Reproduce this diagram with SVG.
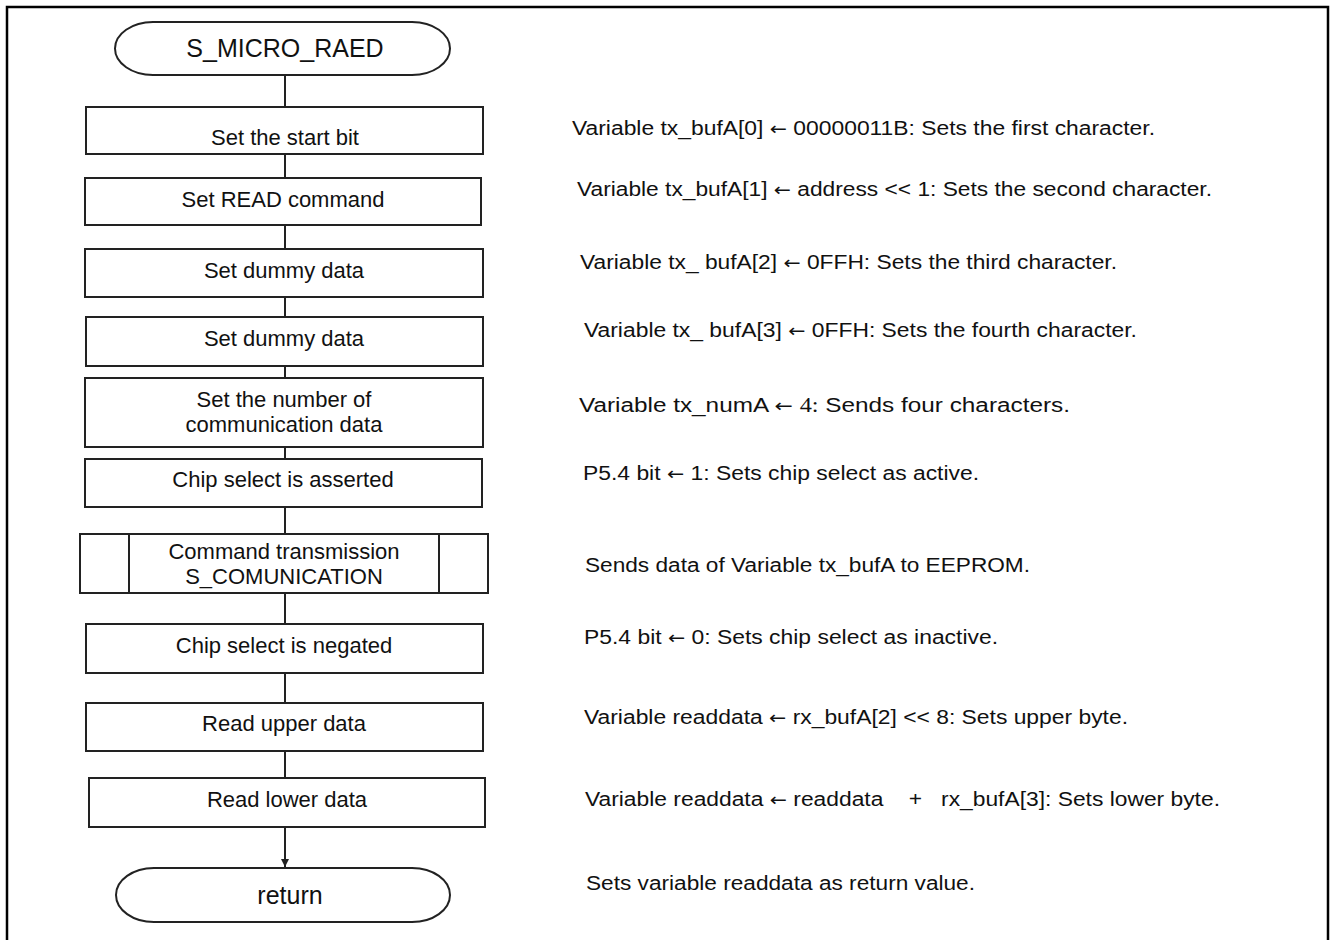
<svg xmlns="http://www.w3.org/2000/svg" width="1330" height="940" viewBox="0 0 1330 940">
  <style>
    .frame { fill: none; stroke: #000; stroke-width: 2.5; }
    .box { fill: #fff; stroke: #222; stroke-width: 2; }
    .wire { fill: none; stroke: #222; stroke-width: 2; }
    .lbl { font-family: "Liberation Sans", Arial, sans-serif; font-size: 22px; fill: #111; text-anchor: middle; }
    .term { font-family: "Liberation Sans", Arial, sans-serif; font-size: 25px; fill: #111; text-anchor: middle; }
    .note { font-family: "Liberation Sans", Arial, sans-serif; font-size: 20px; fill: #111; white-space: pre; }
    .math { font-family: "Liberation Serif", "Times New Roman", serif; }
    .arr { font-family: "DejaVu Sans", sans-serif; font-size: 18px; }
  </style>
  <defs>
    <marker id="arrow" markerWidth="10" markerHeight="10" refX="8" refY="5" orient="auto" markerUnits="userSpaceOnUse" viewBox="0 0 10 10">
      <path d="M0,1 L8,5 L0,9 Z" fill="#222"/>
    </marker>
  </defs>

  <rect width="1330" height="940" fill="#fff"/>
  <!-- outer frame, open at the bottom -->
  <path class="frame" d="M7,940 L7,7 L1328,7 L1328,940"/>

  <!-- connectors -->
  <g id="connectors">
    <line class="wire" x1="285" y1="75" x2="285" y2="107"/>
    <line class="wire" x1="285" y1="154" x2="285" y2="178"/>
    <line class="wire" x1="285" y1="225" x2="285" y2="249"/>
    <line class="wire" x1="285" y1="297" x2="285" y2="317"/>
    <line class="wire" x1="285" y1="366" x2="285" y2="378"/>
    <line class="wire" x1="285" y1="447" x2="285" y2="459"/>
    <line class="wire" x1="285" y1="507" x2="285" y2="534"/>
    <line class="wire" x1="285" y1="593" x2="285" y2="624"/>
    <line class="wire" x1="285" y1="673" x2="285" y2="703"/>
    <line class="wire" x1="285" y1="751" x2="285" y2="778"/>
    <line class="wire" x1="285" y1="827" x2="285" y2="867" marker-end="url(#arrow)"/>
  </g>

  <!-- flowchart nodes -->
  <g id="start">
    <rect class="box" x="115" y="22" width="335" height="53" rx="38" ry="26.5"/>
    <text class="term" x="285" y="57">S_MICRO_RAED</text>
  </g>
  <g id="set-start-bit">
    <rect class="box" x="86" y="107" width="397" height="47"/>
    <text class="lbl" x="285" y="145">Set the start bit</text>
  </g>
  <g id="set-read-command">
    <rect class="box" x="85" y="178" width="396" height="47"/>
    <text class="lbl" x="283" y="207">Set READ command</text>
  </g>
  <g id="set-dummy-1">
    <rect class="box" x="85" y="249" width="398" height="48"/>
    <text class="lbl" x="284" y="278">Set dummy data</text>
  </g>
  <g id="set-dummy-2">
    <rect class="box" x="86" y="317" width="397" height="49"/>
    <text class="lbl" x="284" y="346">Set dummy data</text>
  </g>
  <g id="set-count">
    <rect class="box" x="85" y="378" width="398" height="69"/>
    <text class="lbl" x="284" y="407">Set the number of</text>
    <text class="lbl" x="284" y="432">communication data</text>
  </g>
  <g id="cs-assert">
    <rect class="box" x="85" y="459" width="397" height="48"/>
    <text class="lbl" x="283" y="487">Chip select is asserted</text>
  </g>
  <g id="command-tx">
    <rect class="box" x="80" y="534" width="408" height="59"/>
    <line class="wire" x1="129" y1="534" x2="129" y2="593"/>
    <line class="wire" x1="439" y1="534" x2="439" y2="593"/>
    <text class="lbl" x="284" y="559">Command transmission</text>
    <text class="lbl" x="284" y="584">S_COMUNICATION</text>
  </g>
  <g id="cs-negate">
    <rect class="box" x="86" y="624" width="397" height="49"/>
    <text class="lbl" x="284" y="653">Chip select is negated</text>
  </g>
  <g id="read-upper">
    <rect class="box" x="86" y="703" width="397" height="48"/>
    <text class="lbl" x="284" y="731">Read upper data</text>
  </g>
  <g id="read-lower">
    <rect class="box" x="89" y="778" width="396" height="49"/>
    <text class="lbl" x="287" y="807">Read lower data</text>
  </g>
  <g id="return">
    <rect class="box" x="116" y="868" width="334" height="54" rx="38" ry="27"/>
    <text class="term" x="290" y="904">return</text>
  </g>

  <!-- step descriptions -->
  <g id="notes">
    <text class="note" x="572" y="135" textLength="583" lengthAdjust="spacingAndGlyphs">Variable tx_bufA[0] <tspan class="arr">←</tspan> 00000011B: Sets the first character.</text>
    <text class="note" x="577" y="196" textLength="635" lengthAdjust="spacingAndGlyphs">Variable tx_bufA[1] <tspan class="arr">←</tspan> address &lt;&lt; 1: Sets the second character.</text>
    <text class="note" x="580" y="269" textLength="537" lengthAdjust="spacingAndGlyphs">Variable tx_ bufA[2] <tspan class="arr">←</tspan> 0FFH: Sets the third character.</text>
    <text class="note" x="584" y="337" textLength="553" lengthAdjust="spacingAndGlyphs">Variable tx_ bufA[3] <tspan class="arr">←</tspan> 0FFH: Sets the fourth character.</text>
    <text class="note" x="579" y="412" textLength="491" lengthAdjust="spacingAndGlyphs">Variable tx_numA <tspan class="arr">←</tspan> <tspan class="math">4:</tspan> Sends four characters.</text>
    <text class="note" x="583" y="480" textLength="396" lengthAdjust="spacingAndGlyphs">P5.4 bit <tspan class="arr">←</tspan> 1: Sets chip select as active.</text>
    <text class="note" x="585" y="572" textLength="445" lengthAdjust="spacingAndGlyphs">Sends data of Variable tx_bufA to EEPROM.</text>
    <text class="note" x="584" y="644" textLength="414" lengthAdjust="spacingAndGlyphs">P5.4 bit <tspan class="arr">←</tspan> 0: Sets chip select as inactive.</text>
    <text class="note" x="584" y="724" textLength="544" lengthAdjust="spacingAndGlyphs">Variable readdata <tspan class="arr">←</tspan> rx_bufA[2] &lt;&lt; 8: Sets upper byte.</text>
    <text class="note" x="585" y="806" textLength="635" lengthAdjust="spacingAndGlyphs">Variable readdata <tspan class="arr">←</tspan> readdata    +   rx_bufA[3]: Sets lower byte.</text>
    <text class="note" x="586" y="890" textLength="389" lengthAdjust="spacingAndGlyphs">Sets variable readdata as return value.</text>
  </g>
</svg>
